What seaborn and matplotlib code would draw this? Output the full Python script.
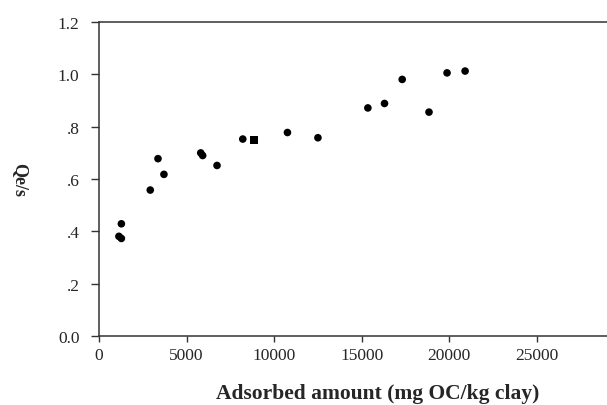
import matplotlib
matplotlib.use("Agg")
import matplotlib.pyplot as plt
import seaborn as sns
import pandas as pd

# adsorbed amount (mg OC/kg clay) and Qe/s
adsorbed = [1140, 1280, 1280, 2930, 3370, 3710, 5810, 5920, 6740, 8210, 8840,
            10760, 12500, 15350, 16300, 17310, 18840, 19870, 20900]
qe_s = [0.381, 0.373, 0.429, 0.558, 0.678, 0.618, 0.700, 0.690, 0.652, 0.753, 0.749,
        0.778, 0.758, 0.872, 0.889, 0.981, 0.856, 1.006, 1.013]
shape = ["circle"] * 10 + ["square"] + ["circle"] * 8

yticks = [0.0, 0.2, 0.4, 0.6, 0.8, 1.0, 1.2]
ytick_labels = ["0.0", ".2", ".4", ".6", ".8", "1.0", "1.2"]
xticks = [0, 5000, 10000, 15000, 20000, 25000]

df = pd.DataFrame({"adsorbed": adsorbed, "qe_s": qe_s, "shape": shape})

sns.set_style("white")
plt.rcParams["font.family"] = ["Liberation Serif", "DejaVu Serif"]

fig = plt.figure(figsize=(6.07, 4.06), dpi=100)
ax = fig.add_axes([0.163, 0.170, 0.837, 0.773])

sns.scatterplot(data=df, x="adsorbed", y="qe_s", style="shape",
                markers={"circle": "o", "square": "s"}, color="black",
                s=30, edgecolor="black", linewidth=0, legend=False, ax=ax)

ax.set_xlim(0, 29000)
ax.set_ylim(0, 1.2)
ax.set_xticks(xticks)
ax.set_xticklabels([str(t) for t in xticks])
ax.set_yticks(yticks)
ax.set_yticklabels(ytick_labels)
ax.tick_params(axis="x", direction="out", length=4, width=1, color="#333333",
               labelsize=12.5, pad=4, bottom=True)
ax.tick_params(axis="y", direction="out", length=6, width=1, color="#333333",
               labelsize=12.5, pad=8, left=True)

for side in ["left", "bottom", "top"]:
    ax.spines[side].set_color("#333333")
    ax.spines[side].set_linewidth(1.1)
ax.spines["right"].set_visible(False)

ax.set_xlabel("Adsorbed amount (mg OC/kg clay)", fontsize=15.5, fontweight="bold",
              va="center")
ax.xaxis.set_label_coords((378 - 99) / 508, -(394 - 337) / 314)
ax.set_ylabel("Qe/s", fontsize=13, fontweight="bold", rotation=270, va="center")
ax.yaxis.set_label_coords(-(99 - 20) / 508, 0.5)

fig.savefig("out.png", dpi=100)
